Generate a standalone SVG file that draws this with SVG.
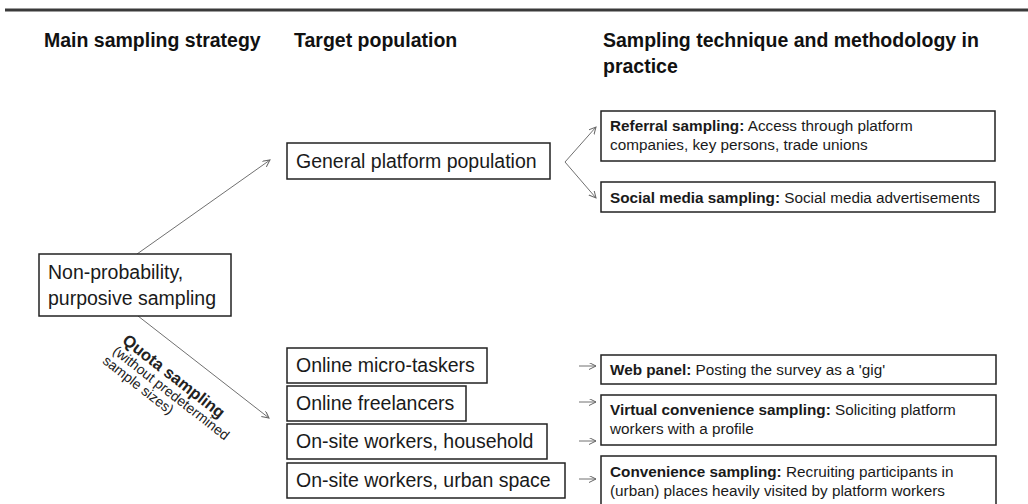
<svg xmlns="http://www.w3.org/2000/svg" width="1028" height="504" viewBox="0 0 1028 504">
<defs>
<marker id="ah" markerWidth="10" markerHeight="8" refX="7" refY="3.5" orient="auto" markerUnits="userSpaceOnUse">
<path d="M0,0 L7,3.5 L0,7" fill="none" stroke="#666" stroke-width="1"/>
</marker>
<style>
.hd{font-family:"Liberation Sans",Arial,sans-serif;font-weight:bold;font-size:19.5px;fill:#111}
.bx{fill:#fff;stroke:#222;stroke-width:1.5}
.bt{font-family:"Liberation Sans",Arial,sans-serif;font-size:19.5px;fill:#1a1a1a}
.st{font-family:"Liberation Sans",Arial,sans-serif;font-size:15.3px;fill:#1a1a1a}
.b{font-weight:bold}
.cn{fill:none;stroke:#707070;stroke-width:1;marker-end:url(#ah)}
.ql{font-family:"Liberation Sans",Arial,sans-serif;fill:#222}
</style>
</defs>
<rect width="1028" height="504" fill="#fff"/>
<line x1="5" y1="10" x2="1028" y2="10" stroke="#3a3a3a" stroke-width="3"/>
<g id="headers">
<text class="hd" x="44" y="47">Main sampling strategy</text>
<text class="hd" x="294" y="47">Target population</text>
<text class="hd" x="603" y="47">Sampling technique and methodology in</text>
<text class="hd" x="603" y="73">practice</text>
</g>
<g id="connectors">
<line class="cn" x1="137" y1="254" x2="270" y2="160"/>
<line class="cn" x1="138" y1="316" x2="269" y2="418"/>
<line class="cn" x1="565" y1="162" x2="596" y2="127"/>
<line class="cn" x1="565" y1="162" x2="596" y2="198"/>
<line class="cn" x1="579" y1="366" x2="596" y2="366"/>
<line class="cn" x1="579" y1="402" x2="596" y2="402"/>
<line class="cn" x1="579" y1="441" x2="596" y2="441"/>
<line class="cn" x1="579" y1="479" x2="596" y2="479"/>
<g transform="translate(138,316) rotate(38)">
<text class="ql b" x="3" y="31" font-size="16.5px">Quota sampling</text>
<text class="ql" x="2" y="45" font-size="14px">(without predetermined</text>
<text class="ql" x="0" y="59" font-size="14px">sample sizes)</text>
</g>
</g>
<g id="n-nonprob">
<rect class="bx" x="39" y="254" width="192" height="62"/>
<text class="bt" x="48" y="279">Non-probability,</text>
<text class="bt" x="48" y="305">purposive sampling</text>
</g>
<g id="n-general">
<rect class="bx" x="287" y="143" width="263" height="36"/>
<text class="bt" x="296" y="168">General platform population</text>
</g>
<g id="n-micro">
<rect class="bx" x="287" y="348" width="200" height="35"/>
<text class="bt" x="296" y="372">Online micro-taskers</text>
</g>
<g id="n-freelancers">
<rect class="bx" x="287" y="386" width="179" height="35"/>
<text class="bt" x="296" y="410">Online freelancers</text>
</g>
<g id="n-household">
<rect class="bx" x="287" y="424" width="260" height="35"/>
<text class="bt" x="296" y="448">On-site workers, household</text>
</g>
<g id="n-urban">
<rect class="bx" x="287" y="463" width="278" height="35"/>
<text class="bt" x="296" y="487">On-site workers, urban space</text>
</g>
<g id="n-referral">
<rect class="bx" x="601" y="111" width="394" height="50"/>
<text class="st" x="610" y="131"><tspan class="b">Referral sampling:</tspan> Access through platform</text>
<text class="st" x="610" y="150">companies, key persons, trade unions</text>
</g>
<g id="n-social">
<rect class="bx" x="601" y="182" width="394" height="30"/>
<text class="st" x="610" y="203"><tspan class="b">Social media sampling:</tspan> Social media advertisements</text>
</g>
<g id="n-web">
<rect class="bx" x="601" y="355" width="395" height="29"/>
<text class="st" x="610" y="375"><tspan class="b">Web panel:</tspan> Posting the survey as a 'gig'</text>
</g>
<g id="n-virtual">
<rect class="bx" x="601" y="395" width="395" height="50"/>
<text class="st" x="610" y="415"><tspan class="b">Virtual convenience sampling:</tspan> Soliciting platform</text>
<text class="st" x="610" y="434">workers with a profile</text>
</g>
<g id="n-convenience">
<rect class="bx" x="601" y="456" width="395" height="56"/>
<text class="st" x="610" y="477"><tspan class="b">Convenience sampling:</tspan> Recruiting participants in</text>
<text class="st" x="610" y="496">(urban) places heavily visited by platform workers</text>
</g>
</svg>
